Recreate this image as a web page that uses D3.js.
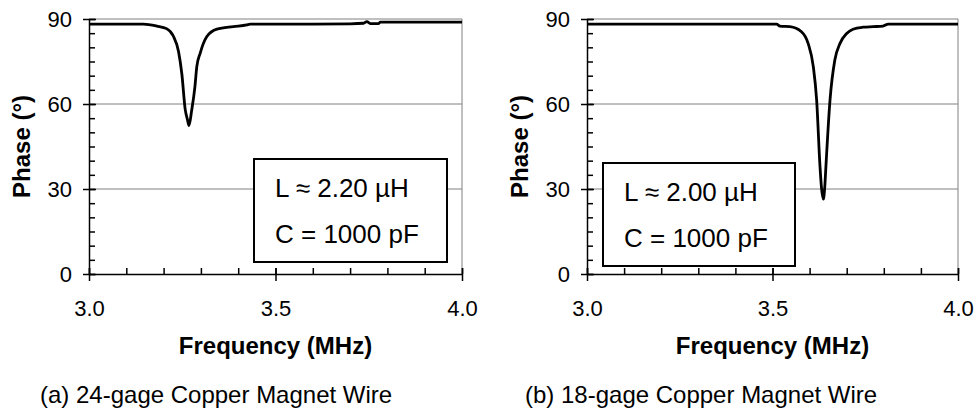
<!DOCTYPE html>
<html>
<head>
<meta charset="utf-8">
<script src="https://cdn.jsdelivr.net/npm/d3@7"></script>
<style>
  body { margin: 0; background: #fff; }
  svg { display: block; font-family: "Liberation Sans", Arial, sans-serif; }
</style>
</head>
<body>
<svg></svg>
<script>
"use strict";

// panel (a): 24-gage wire
const freqA = [3.0, 3.05, 3.1, 3.146, 3.182, 3.208, 3.226, 3.24, 3.249, 3.258, 3.264, 3.268,
  3.275, 3.284, 3.289, 3.298, 3.316, 3.343, 3.387, 3.423, 3.432, 3.5, 3.6, 3.7, 3.736,
  3.745, 3.754, 3.776, 3.781, 3.85, 3.9, 4.0];
const phaseA = [88.2, 88.2, 88.2, 88.2, 87.5, 86.6, 84.0, 78.5, 70.5, 58.0, 54.5, 52.4,
  57.5, 66.1, 73.2, 77.9, 83.8, 86.4, 87.3, 87.9, 88.2, 88.2, 88.2, 88.3, 88.5,
  89.1, 88.4, 88.4, 88.9, 88.9, 88.9, 88.9];

// panel (b): 18-gage wire
const freqB = [3.0, 3.1, 3.2, 3.3, 3.4, 3.511, 3.52, 3.547, 3.578, 3.596, 3.61, 3.619,
  3.628, 3.632, 3.637, 3.641, 3.644, 3.655, 3.668, 3.682, 3.7, 3.717, 3.744, 3.771,
  3.798, 3.812, 3.9, 4.0];
const phaseB = [88.2, 88.2, 88.2, 88.2, 88.2, 88.2, 87.5, 87.3, 85.5, 81.4, 73.2, 61.4,
  38.0, 30.5, 26.4, 31.0, 38.0, 61.4, 75.5, 81.4, 84.9, 86.4, 87.1, 87.3,
  87.5, 88.2, 88.2, 88.2];

const xTicks = [3.0, 3.5, 4.0];
const yTicks = [0, 30, 60, 90];
const boxLines = [["L \u2248 2.20 \u00b5H", "C = 1000 pF"], ["L \u2248 2.00 \u00b5H", "C = 1000 pF"]];
const captions = ["(a) 24-gage Copper Magnet Wire", "(b) 18-gage Copper Magnet Wire"];

const width = 977;
const height = 418;

const svg = d3.select("svg").attr("width", width).attr("height", height);

const panels = [
  { left: 89, right: 462, freq: freqA, phase: phaseA, box: [254, 159, 193, 103], text: boxLines[0], caption: captions[0], capX: 40 },
  { left: 587, right: 958, freq: freqB, phase: phaseB, box: [603, 163, 192, 103], text: boxLines[1], caption: captions[1], capX: 525 }
];

const plotTop = 19;
const plotBottom = 274;

const drawPanel = (p) => {
  const g = svg.append("g");
  const x = d3.scaleLinear().domain([3.0, 4.0]).range([p.left, p.right]);
  const y = d3.scaleLinear().domain([0, 90]).range([plotBottom, plotTop]);

  // grid lines
  g.selectAll(".grid")
    .data([30, 60, 90])
    .enter()
    .append("line")
    .attr("x1", p.left)
    .attr("x2", p.right)
    .attr("y1", (d) => y(d))
    .attr("y2", (d) => y(d))
    .attr("stroke", "#808080")
    .attr("stroke-width", 1);
  g.append("line")
    .attr("x1", p.right).attr("x2", p.right)
    .attr("y1", plotTop).attr("y2", plotBottom)
    .attr("stroke", "#808080")
    .attr("stroke-width", 1);

  // minor ticks, pointing inward
  const yMinor = d3.range(0, 91, 5);
  g.append("g")
    .attr("transform", `translate(${p.left},0)`)
    .call(d3.axisRight(y).tickValues(yMinor).tickSize(6).tickFormat(""))
    .call((a) => a.select(".domain").remove())
    .call((a) => a.selectAll("line").attr("stroke-width", 1.5));
  const xMinor = d3.range(0, 11).map((i) => 3 + i / 10);
  g.append("g")
    .attr("transform", `translate(0,${plotBottom})`)
    .call(d3.axisTop(x).tickValues(xMinor).tickSize(6).tickFormat(""))
    .call((a) => a.select(".domain").remove())
    .call((a) => a.selectAll("line").attr("stroke-width", 1.5));

  // major axes, ticks crossing the axis line
  const yAxis = g.append("g")
    .attr("transform", `translate(${p.left},0)`)
    .call(d3.axisLeft(y).tickValues(yTicks).tickSize(6).tickSizeOuter(0).tickPadding(11).tickFormat(d3.format("d")));
  yAxis.selectAll(".tick line").attr("x2", 7).attr("x1", -6);
  const xAxis = g.append("g")
    .attr("transform", `translate(0,${plotBottom})`)
    .call(d3.axisBottom(x).tickValues(xTicks).tickSize(7).tickSizeOuter(0).tickPadding(19).tickFormat(d3.format(".1f")));
  xAxis.selectAll(".tick line").attr("y1", -6);
  [yAxis, xAxis].forEach((a) => {
    a.select(".domain").attr("stroke-width", 1.5);
    a.selectAll(".tick line").attr("stroke-width", 1.5);
    a.selectAll("text").attr("font-size", 22).attr("fill", "#000").attr("font-family", "Liberation Sans, Arial, sans-serif");
  });

  // curve
  const line = d3.line()
    .x((d, i) => x(p.freq[i]))
    .y((d) => y(d))
    .curve(d3.curveMonotoneX);
  g.append("path")
    .datum(p.phase)
    .attr("d", line)
    .attr("fill", "none")
    .attr("stroke", "#000")
    .attr("stroke-width", 2.8)
    .attr("stroke-linejoin", "round");

  // parameter box
  g.append("rect")
    .attr("x", p.box[0]).attr("y", p.box[1])
    .attr("width", p.box[2]).attr("height", p.box[3])
    .attr("fill", "#fff")
    .attr("stroke", "#000")
    .attr("stroke-width", 2);
  g.selectAll(".boxtext")
    .data(p.text)
    .enter()
    .append("text")
    .attr("x", p.box[0] + 21)
    .attr("y", (d, i) => p.box[1] + 38 + i * 46)
    .attr("font-size", 26)
    .text((d) => d);

  // axis titles
  g.append("text")
    .attr("x", (p.left + p.right) / 2)
    .attr("y", 354)
    .attr("text-anchor", "middle")
    .attr("font-size", 24)
    .attr("font-weight", "bold")
    .text("Frequency (MHz)");
  g.append("text")
    .attr("transform", `translate(${p.left - 67},${(plotTop + plotBottom) / 2}) rotate(-90)`)
    .attr("text-anchor", "middle")
    .attr("dy", "0.35em")
    .attr("font-size", 24)
    .attr("font-weight", "bold")
    .text("Phase (\u00b0)");

  // caption
  g.append("text")
    .attr("x", p.capX)
    .attr("y", 403)
    .attr("font-size", 24)
    .text(p.caption);
};

panels.forEach(drawPanel);
</script>
</body>
</html>
